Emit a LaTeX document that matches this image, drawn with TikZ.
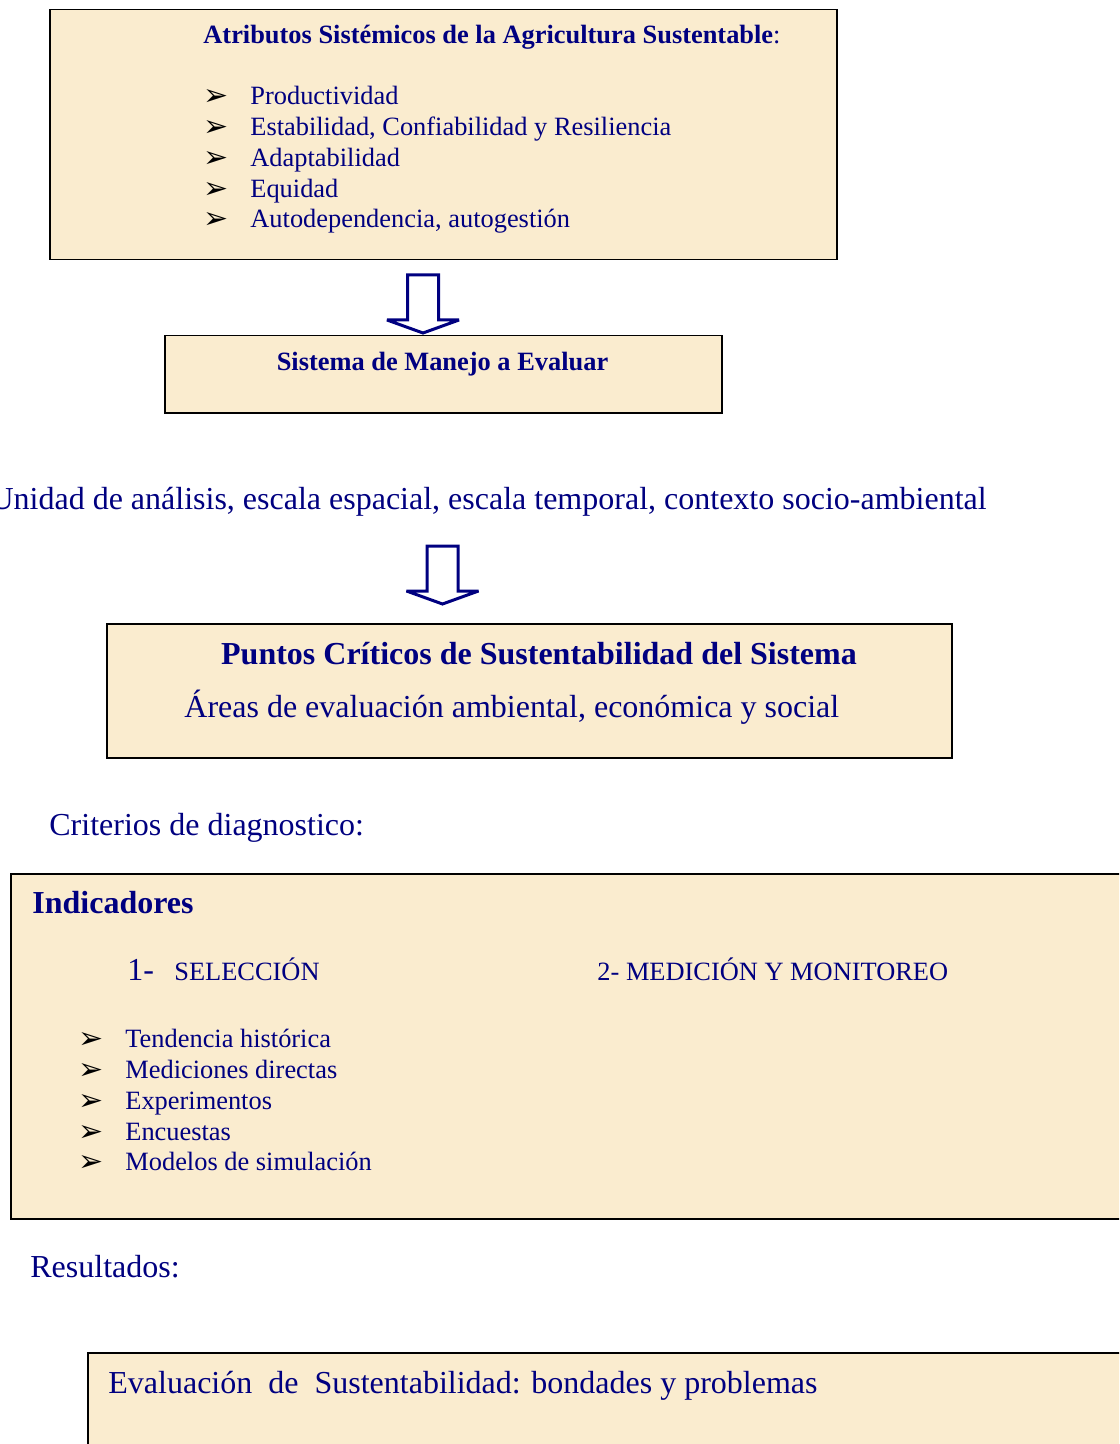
\documentclass[tikz,border=0pt]{standalone}
\usepackage{fontspec}
\setmainfont{Liberation Serif}
\newfontfamily\vinetafont{DejaVu Sans}
\definecolor{azul}{RGB}{0,0,128}
\definecolor{pergamino}{RGB}{250,236,207}
\newcommand{\vin}{\makebox[23.5pt][l]{\color{black}\vinetafont\fontsize{15}{15}\selectfont\raisebox{-0.5pt}{➢}}}

\begin{document}
\begin{tikzpicture}[x=0.5pt,y=-0.5pt,
    caja/.style={draw=black,line width=0.75pt,fill=pergamino,anchor=north west,inner sep=0pt},
    texto/.style={text=azul,anchor=base west,inner sep=0pt,font=\fontsize{13.2}{15.5}\selectfont},
    grande/.style={text=azul,anchor=base west,inner sep=0pt,font=\fontsize{16}{19}\selectfont},
    hueca/.style={draw=azul,line width=1.5pt,fill=white,line join=miter,miter limit=4}]
  \useasboundingbox (0,0) rectangle (1119,1444);
  \clip (0,0) rectangle (1119,1444);
  \fill[white] (0,0) rectangle (1119,1444);

  % cajas
  \node[caja,minimum width=393.5pt,minimum height=125pt] (atributos) at (49,9) {};
  \node[caja,minimum width=278.5pt,minimum height=38.5pt] (manejo) at (164,335) {};
  \node[caja,minimum width=422.5pt,minimum height=67pt] (criticos) at (106,623) {};
  \node[caja,minimum width=560pt,minimum height=172.5pt] (indicadores) at (10,873) {};
  \node[caja,minimum width=520pt,minimum height=60pt] (evaluacion) at (87,1352) {};

  % flechas
  \coordinate (f1) at (423,275);
  \coordinate (f2) at (442.5,546);
  \foreach \f in {f1,f2}
    \draw[hueca] (\f) ++(-15.5,0) -- ++(31,0) -- ++(0,45) -- ++(20.5,0)
      -- ++(-36,13) -- ++(-36,-13) -- ++(20.5,0) -- cycle;

  % atributos
  \node[texto,font=\fontsize{13.2}{15.5}\selectfont\bfseries] (titulo) at (203,44)
    {Atributos Sistémicos de la Agricultura Sustentable\mdseries:};
  \foreach \t [count=\i] in {Productividad,{Estabilidad, Confiabilidad y Resiliencia},
      Adaptabilidad,Equidad,{Autodependencia, autogestión}}
    \node[texto] (atr\i) at (203,74.25+30.75*\i) {\vin\t};

  \node[texto,anchor=base,font=\fontsize{13.2}{15.5}\selectfont\bfseries] (sistema) at (442.5,371)
    {Sistema de Manejo a Evaluar};

  \node[grande,anchor=base east] (unidad) at (987,509)
    {Unidad de análisis, escala espacial, escala temporal, contexto socio-ambiental};

  % puntos criticos
  \node[grande,anchor=base,font=\fontsize{16}{19}\selectfont\bfseries] (puntos) at (539,664)
    {Puntos Críticos de Sustentabilidad del Sistema};
  \node[grande] (areas) at (184,717) {Áreas de evaluación ambiental, económica y social};

  \node[grande] (criterios) at (49,835) {Criterios de diagnostico:};

  % indicadores
  \node[grande,font=\fontsize{16}{19}\selectfont\bfseries] (indtit) at (32,913) {Indicadores};
  \node[grande] (uno) at (127,980) {1-};
  \node[texto] (seleccion) at (174,980) {SELECCIÓN};
  \node[texto] (medicion) at (597,980) {2- MEDICIÓN Y MONITOREO};
  \foreach \t [count=\i] in {Tendencia histórica,Mediciones directas,Experimentos,
      Encuestas,Modelos de simulación}
    \node[texto] (ind\i) at (78,1017+30.75*\i) {\vin\t};

  \node[grande] (resultados) at (30,1277) {Resultados:};
  \node[grande] (bondades) at (108,1393)
    {Evaluación\ \ de\ \ Sustentabilidad: bondades y problemas};
\end{tikzpicture}
\end{document}
